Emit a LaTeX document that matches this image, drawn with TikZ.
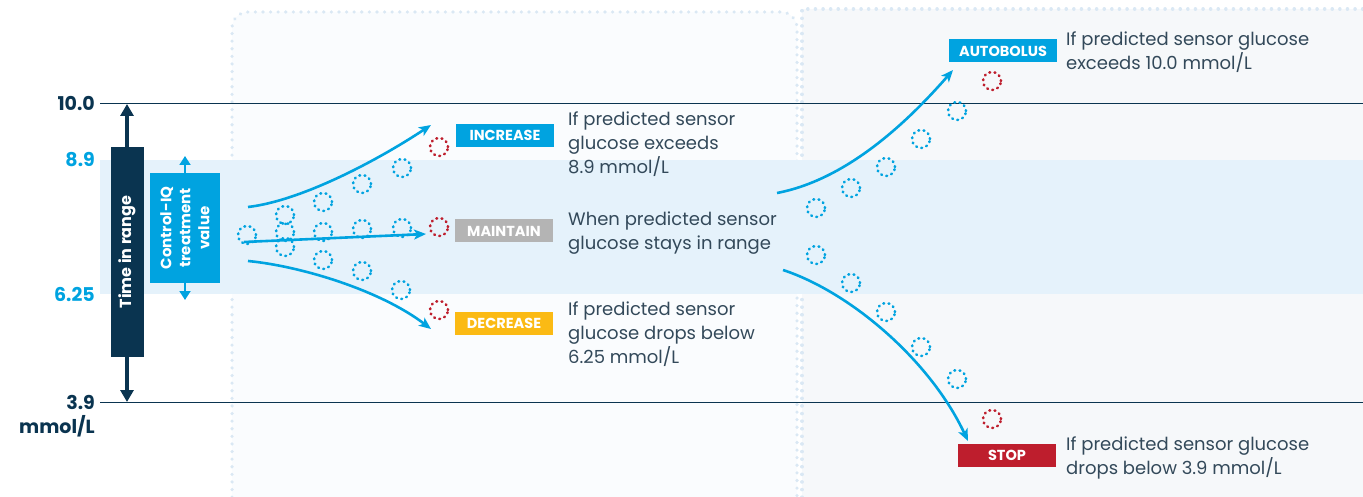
\documentclass[tikz,border=0pt]{standalone}
\usepackage{fontspec}
\setmainfont{Poppins}
\usetikzlibrary{arrows.meta}
\definecolor{navy}{HTML}{0A3450}
\definecolor{tcyan}{HTML}{00A3E0}
\definecolor{bandc}{HTML}{E5F2FB}
\definecolor{panelA}{HTML}{FAFCFE}
\definecolor{panelB}{HTML}{F6F8FA}
\definecolor{borderc}{HTML}{DAE8F4}
\definecolor{tgray}{HTML}{B4B4B4}
\definecolor{tyellow}{HTML}{FBBA14}
\definecolor{tred}{HTML}{BE1E2D}
\definecolor{bodyc}{HTML}{33495A}
\begin{document}
\begin{tikzpicture}[x=1pt,y=-1pt,
  dotc/.style={circle, draw=tcyan, minimum size=18pt, inner sep=0pt, line width=2.6pt, dash pattern=on 0.8pt off 4.5pt, line cap=round},
  redc/.style={dotc, draw=tred},
  tag/.style={text=white, font=\bfseries\fontsize{14.5}{14.5}\selectfont, minimum height=23pt, minimum width=98pt, inner sep=0pt},
  body/.style={text=bodyc, font=\fontsize{18}{23.6}\selectfont, align=left, anchor=north west, inner sep=0pt},
  axl/.style={font=\bfseries\fontsize{19}{21}\selectfont, anchor=east, inner sep=0pt},
  fan/.style={draw=tcyan, line width=2.6pt, -{Stealth[length=12pt,width=10pt,inset=3pt]}},
  pborder/.style={draw=borderc, line width=3.5pt, dash pattern=on 0.1pt off 7.5pt, line cap=round}
]
\useasboundingbox (0,0) rectangle (1363,497);
% panels
\fill[panelA, rounded corners=16pt] (232,530) rectangle (797,12);
\fill[panelB] (802,530) rectangle (1375,9);
\draw[pborder, rounded corners=16pt] (232,520) -- (232,12) -- (797,12) -- (797,520);
\draw[pborder] (802,520) -- (802,9) -- (1375,9);
% band
\fill[bandc] (100,160) rectangle (1363,294);
% horizontal lines
\draw[navy, line width=1.4pt] (100,103.5) -- (1363,103.5);
\draw[navy, line width=1.4pt] (100,402.5) -- (1363,402.5);
% axis labels
\node[axl, text=navy] (l10) at (95,103.5) {10.0};
\node[axl, text=tcyan] (l89) at (95,160) {8.9};
\node[axl, text=tcyan] (l625) at (95,294) {6.25};
\node[axl, text=navy] (l39) at (95,402.5) {3.9};
\node[axl, text=navy] (lunit) at (95,426) {mmol/L};
% time in range
\node[fill=navy, minimum width=33pt, minimum height=210pt, inner sep=0pt] (tir) at (127,252) {};
\node[rotate=90, text=white, font=\fontsize{16}{18}\selectfont\bfseries] (tirt) at (tir.center) {Time in range};
\coordinate (tirtop) at (127,104);
\coordinate (tirbot) at (127,402);
\draw[navy, line width=3.2pt, -{Triangle[length=12pt,width=13pt]}] (tir.north) -- (tirtop);
\draw[navy, line width=3.2pt, -{Triangle[length=12pt,width=13pt]}] (tir.south) -- (tirbot);
% control-iq
\node[fill=tcyan, minimum width=70pt, minimum height=110pt, inner sep=0pt] (ciq) at (185,228) {};
\node[rotate=90, text=white, align=center, font=\fontsize{15}{19}\selectfont\bfseries] (ciqt) at (ciq.center) {Control-IQ\\treatment\\value};
\coordinate (ciqtop) at (185,156);
\coordinate (ciqbot) at (185,300);
\draw[tcyan, line width=1.8pt, -{Triangle[length=9pt,width=11pt]}] (ciq.north) -- (ciqtop);
\draw[tcyan, line width=1.8pt, -{Triangle[length=9pt,width=11pt]}] (ciq.south) -- (ciqbot);
% left fan circles
\node[dotc] (c0) at (247,235) {};
\node[dotc] (c1a) at (285,215) {};
\node[dotc] (c1b) at (285,232) {};
\node[dotc] (c1c) at (285,247) {};
\node[dotc] (c2a) at (323,202) {};
\node[dotc] (c2b) at (323,232) {};
\node[dotc] (c2c) at (323,260) {};
\node[dotc] (c3a) at (362,184) {};
\node[dotc] (c3b) at (362,229) {};
\node[dotc] (c3c) at (362,271) {};
\node[dotc] (c4a) at (402,168) {};
\node[dotc] (c4b) at (402,228) {};
\node[dotc] (c4c) at (401,290) {};
\node[redc] (r1) at (439,147) {};
\node[redc] (r2) at (439,227) {};
\node[redc] (r3) at (439,310) {};
% left fan arrows
\coordinate (fs1) at (248,207);
\coordinate (fe1) at (431,125);
\coordinate (fs2) at (244,242);
\coordinate (fe2) at (426,234);
\coordinate (fs3) at (248,261);
\coordinate (fe3) at (431,329);
\draw[fan] (fs1) .. controls (300,201) and (375,162) .. (fe1);
\draw[fan] (fs2) -- (fe2);
\draw[fan] (fs3) .. controls (300,266) and (380,290) .. (fe3);
% left tags
\node[tag, fill=tcyan] (inc) at (505,135.5) {INCREASE};
\node[tag, fill=tgray] (mnt) at (504,231) {MAINTAIN};
\node[tag, fill=tyellow] (dec) at (504,323) {DECREASE};
\node[body] (inct) at (568,112) {If predicted sensor\\glucose exceeds\\8.9 mmol/L};
\node[body] (mntt) at (568,212) {When predicted sensor\\glucose stays in range};
\node[body] (dect) at (568,302) {If predicted sensor\\glucose drops below\\6.25 mmol/L};
% right circles
\node[dotc] (u1) at (816,208) {};
\node[dotc] (u2) at (851,188) {};
\node[dotc] (u3) at (886,167) {};
\node[dotc] (u4) at (921,139) {};
\node[dotc] (u5) at (957,111) {};
\node[redc] (ur) at (992,81) {};
\node[dotc] (d1) at (816,255) {};
\node[dotc] (d2) at (851,283) {};
\node[dotc] (d3) at (886,312) {};
\node[dotc] (d4) at (921,347) {};
\node[dotc] (d5) at (957,379) {};
\node[redc] (dr) at (992,419) {};
% right arrows
\coordinate (as) at (777,193);
\coordinate (ae) at (953,70);
\coordinate (ss) at (783,270);
\coordinate (se) at (968,441);
\draw[fan] (as) .. controls (845,180) and (905,125) .. (ae);
\draw[fan] (ss) .. controls (850,292) and (930,360) .. (se);
% right tags
\node[tag, fill=tcyan, minimum width=108pt] (abl) at (1003,51) {AUTOBOLUS};
\node[tag, fill=tred] (stp) at (1007,455.5) {STOP};
\node[body] (ablt) at (1066,32) {If predicted sensor glucose\\exceeds 10.0 mmol/L};
\node[body] (stpt) at (1066,437) {If predicted sensor glucose\\drops below 3.9 mmol/L};
\end{tikzpicture}
\end{document}
